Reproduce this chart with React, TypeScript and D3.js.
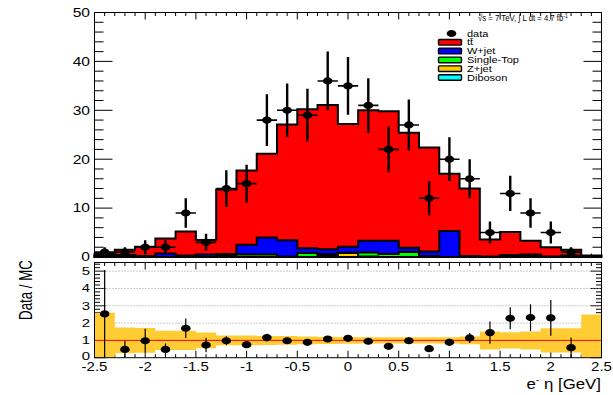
import React from 'react';
import * as d3 from 'd3';

// ---- data ----
const binCenters = [-2.4, -2.2, -2.0, -1.8, -1.6, -1.4, -1.2, -1.0, -0.8, -0.6, -0.4, -0.2, 0.0, 0.2, 0.4, 0.6, 0.8, 1.0, 1.2, 1.4, 1.6, 1.8, 2.0, 2.2, 2.4];
const dataCounts = [1, 1, 2, 2, 9, 3, 14, 15, 28, 30, 29, 36, 35, 31, 22, 27, 12, 20, 16, 5, 13, 9, 5, 1, 0];
const ttbar = [0.4, 1.1, 1.9, 3.1, 4.9, 3.0, 13.2, 15.2, 17.1, 23.7, 28.4, 29.5, 25.1, 26.7, 26.5, 23.5, 21.3, 11.7, 13.8, 3.5, 4.7, 2.8, 1.9, 1.2, 0.3];
const wjet = [0.2, 0.4, 0.2, 0.7, 0.3, 0.5, 0.3, 2.0, 3.5, 3.3, 1.0, 1.0, 1.2, 2.4, 2.7, 0.9, 0.9, 5.3, 0.2, 0.1, 0.4, 0.1, 0.1, 0.3, 0];
const singleTop = [0, 0, 0, 0, 0, 0, 0.3, 0.5, 0.5, 0.1, 0.8, 0.2, 0.1, 0.8, 0.6, 1.0, 0.2, 0, 0, 0, 0, 0, 0, 0, 0];
const zjet = [0, 0, 0, 0, 0, 0, 0, 0, 0, 0, 0, 0.4, 0.8, 0.1, 0, 0, 0, 0, 0, 0, 0, 0.4, 0, 0, 0];
const diboson = [0, 0, 0, 0, 0, 0, 0, 0, 0, 0, 0, 0, 0, 0, 0, 0, 0, 0, 0, 0, 0, 0, 0, 0, 0];
const ratioValues: (number | null)[] = [2.53, 0.48, 0.98, 0.48, 1.70, 0.73, 0.98, 0.75, 1.16, 0.98, 0.89, 1.08, 1.12, 0.95, 0.66, 0.98, 0.52, 0.89, 1.14, 1.45, 2.28, 2.32, 2.30, 0.58, null];
const bandHalfWidth = [1.6, 0.75, 0.72, 0.55, 0.55, 0.45, 0.28, 0.28, 0.26, 0.25, 0.22, 0.21, 0.2, 0.18, 0.18, 0.18, 0.18, 0.18, 0.23, 0.52, 0.47, 0.52, 0.7, 0.7, 1.5];
const xTickValues = [-2.5, -2, -1.5, -1, -0.5, 0, 0.5, 1, 1.5, 2, 2.5];
const xTickLabels = ['-2.5', '-2', '-1.5', '-1', '-0.5', '0', '0.5', '1', '1.5', '2', '2.5'];
const yTopTicks = [0, 10, 20, 30, 40, 50];
const yRatioTicks = [0, 1, 2, 3, 4, 5];
const gridRatio = [2, 3, 4, 5];

const legendEntries = [
  { key: 'ttbar', label: 'tt\u0304', color: '#ff0000' },
  { key: 'wjet', label: 'W+jet', color: '#0000ff' },
  { key: 'singleTop', label: 'Single-Top', color: '#00ff00' },
  { key: 'zjet', label: 'Z+jet', color: '#ffcc00' },
  { key: 'diboson', label: 'Diboson', color: '#00ffff' },
];

const FONT = '"Liberation Sans", Arial, Helvetica, sans-serif';
const SX = 1.3;

function SText(props: any) {
  const { x, y, size, anchor = 'start', sx = SX, children, rotate = 0, ...rest } = props;
  const tr = `translate(${x},${y}) scale(${sx},1)` + (rotate ? ` rotate(${rotate})` : '');
  return (
    <text transform={tr} fontSize={size} fontFamily={FONT} textAnchor={anchor} fill="#000" {...rest}>
      {children}
    </text>
  );
}

export default function App() {
  const W = 613, H = 395;
  const x = d3.scaleLinear().domain([-2.5, 2.5]).range([94.5, 601.5]);
  const yTop = d3.scaleLinear().domain([0, 50]).range([257, 12.5]);
  const yRat = d3.scaleLinear().domain([0, 5.5]).range([357.7, 262.5]);
  const half = 0.1;
  const edges = binCenters.map((c) => c - half).concat([binCenters[binCenters.length - 1] + half]);

  const rows = binCenters.map((c, i) => ({
    diboson: diboson[i], zjet: zjet[i], singleTop: singleTop[i], wjet: wjet[i], ttbar: ttbar[i],
  }));
  const keys = ['diboson', 'zjet', 'singleTop', 'wjet', 'ttbar'];
  const series = d3.stack<any>().keys(keys)(rows);
  const colorOf: Record<string, string> = {};
  legendEntries.forEach((l) => (colorOf[l.key] = l.color));

  const stepArea = (top: number[], bottom: number[], ys: any) => {
    const pts = edges.map((e, i) => {
      const j = Math.min(i, top.length - 1);
      return { x: e, t: top[j], b: bottom[j] };
    });
    return d3.area<any>().x((d) => x(d.x)).y0((d) => ys(d.b)).y1((d) => ys(d.t)).curve(d3.curveStepAfter)(pts) || '';
  };
  const zeros = binCenters.map(() => 0);

  const [xl, xr] = x.range();
  const topT = 12.5, topB = 257;
  const ratT = 262.5, ratB = 357.7;

  const xMinor = d3.range(-2.5, 2.5001, 0.1);
  const yTopMinor = d3.range(0, 50.001, 2);
  const yRatMinor = d3.range(0, 5.5001, 0.2);

  const tickLines: JSX.Element[] = [];
  xMinor.forEach((v, i) => {
    const major = Math.abs(v * 2 - Math.round(v * 2)) < 1e-6;
    const L = major ? 7 : 3.5;
    tickLines.push(<line key={'tt' + i} x1={x(v)} x2={x(v)} y1={topT} y2={topT + L} />);
    tickLines.push(<line key={'tb' + i} x1={x(v)} x2={x(v)} y1={topB} y2={topB - L} />);
    tickLines.push(<line key={'rt' + i} x1={x(v)} x2={x(v)} y1={ratT} y2={ratT + L} />);
    tickLines.push(<line key={'rb' + i} x1={x(v)} x2={x(v)} y1={ratB} y2={ratB - L} />);
  });
  const yTicks: JSX.Element[] = [];
  yTopMinor.forEach((v, i) => {
    const major = Math.abs(v % 10) < 1e-6;
    const L = major ? 18 : 9;
    yTicks.push(<line key={'yl' + i} x1={xl} x2={xl + L} y1={yTop(v)} y2={yTop(v)} />);
    yTicks.push(<line key={'yr' + i} x1={xr} x2={xr - L} y1={yTop(v)} y2={yTop(v)} />);
  });
  yRatMinor.forEach((v, i) => {
    const major = Math.abs(v - Math.round(v)) < 1e-6;
    const L = major ? 11 : 5.5;
    yTicks.push(<line key={'rl' + i} x1={xl} x2={xl + L} y1={yRat(v)} y2={yRat(v)} />);
    yTicks.push(<line key={'rr' + i} x1={xr} x2={xr - L} y1={yRat(v)} y2={yRat(v)} />);
  });

  const bandTop = bandHalfWidth.map((h) => Math.min(5.5, 1 + h));
  const bandBot = bandHalfWidth.map((h) => Math.max(0, 1 - h));

  return (
    <svg width={W} height={H} style={{ position: 'absolute', left: 0, top: 0, background: '#fff' }}>
      <defs>
        <clipPath id="clipTop"><rect x={xl} y={topT} width={xr - xl} height={topB - topT} /></clipPath>
        <clipPath id="clipRat"><rect x={xl} y={ratT} width={xr - xl} height={ratB - ratT} /></clipPath>
      </defs>
      <rect x={0} y={0} width={W} height={H} fill="#fff" />

      <g stroke="#000" strokeWidth={1}>{tickLines}</g>

      <g>
        {series.slice().reverse().map((s: any) => (
          <path key={s.key} d={stepArea(s.map((d: any) => d[1]), zeros, yTop)}
            fill={colorOf[s.key]} stroke="#000" strokeWidth={2} strokeLinejoin="miter" />
        ))}
      </g>

      <g clipPath="url(#clipTop)">
        {binCenters.map((c, i) => {
          const n = dataCounts[i];
          if (n <= 0) return null;
          const e = Math.sqrt(n);
          return (
            <g key={'d' + i}>
              <line x1={x(c)} x2={x(c)} y1={yTop(n - e)} y2={yTop(n + e)} stroke="#000" strokeWidth={2.4} />
              <line x1={x(c - half)} x2={x(c + half)} y1={yTop(n)} y2={yTop(n)} stroke="#000" strokeWidth={1.6} />
              <ellipse cx={x(c)} cy={yTop(n)} rx={4.8} ry={3.6} fill="#000" />
            </g>
          );
        })}
      </g>

      <rect x={xl} y={topT} width={xr - xl} height={topB - topT} fill="none" stroke="#000" strokeWidth={1} />
      <g stroke="#000" strokeWidth={1}>{yTicks}</g>

      {yTopTicks.map((v) => (
        <SText key={'yt' + v} x={90} y={yTop(v) + 4.3} size={12} anchor="end">{String(v)}</SText>
      ))}

      <g>
        <ellipse cx={451.5} cy={33.5} rx={4.8} ry={3.6} fill="#000" />
        <SText x={467} y={36.5} size={8.8} sx={1.25}>data</SText>
        {legendEntries.map((l, i) => {
          const cy = 42.3 + i * 8.8;
          return (
            <g key={l.key}>
              <rect x={438.5} y={cy - 2.8} width={23} height={5.6} fill={l.color} stroke="#000" strokeWidth={1.4} rx={1} />
              <SText x={467} y={cy + 3} size={8.8} sx={1.25}>{l.label}</SText>
            </g>
          );
        })}
      </g>

      <SText x={478} y={21} size={9.5} sx={1.0} textLength={90} lengthAdjust="spacingAndGlyphs">
        {'\u221As = 7 TeV, \u222B L dt = 4.7 fb'}
        <tspan fontSize={6.5} dy={-3.5}>-1</tspan>
      </SText>

      <g stroke="#999" strokeWidth={1} strokeDasharray="1,2">
        {gridRatio.map((g) => (
          <line key={'g' + g} x1={xl} x2={xr} y1={yRat(g)} y2={yRat(g)} />
        ))}
      </g>
      <g clipPath="url(#clipRat)">
        <path d={stepArea(bandTop, bandBot, yRat)} fill="#ffcc33" stroke="none" />
        <line x1={x(-2.5)} x2={x(2.5)} y1={yRat(1)} y2={yRat(1)} stroke="#ff0000" strokeWidth={1} />
        {binCenters.map((c, i) => {
          const r = ratioValues[i];
          const n = dataCounts[i];
          if (r === null || n <= 0) return null;
          const e = r / Math.sqrt(n);
          return (
            <g key={'r' + i}>
              <line x1={x(c)} x2={x(c)} y1={yRat(Math.max(0, r - e))} y2={yRat(Math.min(5.5, r + e))} stroke="#000" strokeWidth={1.2} />
              <ellipse cx={x(c)} cy={yRat(r)} rx={4.8} ry={3.6} fill="#000" />
            </g>
          );
        })}
      </g>
      <rect x={xl} y={ratT} width={xr - xl} height={ratB - ratT} fill="none" stroke="#000" strokeWidth={1} />

      {yRatioTicks.map((v) => (
        <SText key={'yr' + v} x={90} y={yRat(v) + (v === 0 ? 2.5 : 4)} size={11.5} anchor="end">{String(v)}</SText>
      ))}
      {xTickValues.map((v, i) => (
        <SText key={'xl' + i} x={x(v)} y={370.5} size={12.5} sx={1.2} anchor="middle">{xTickLabels[i]}</SText>
      ))}

      <SText x={601} y={389} size={14} sx={1.2} anchor="end">
        {'e'}<tspan fontSize={9} dy={-6}>-</tspan><tspan dy={6}>{' \u03B7 [GeV]'}</tspan>
      </SText>
      <SText x={32} y={290} size={13.3} sx={1.35} anchor="middle" rotate={-90}>Data / MC</SText>
    </svg>
  );
}
